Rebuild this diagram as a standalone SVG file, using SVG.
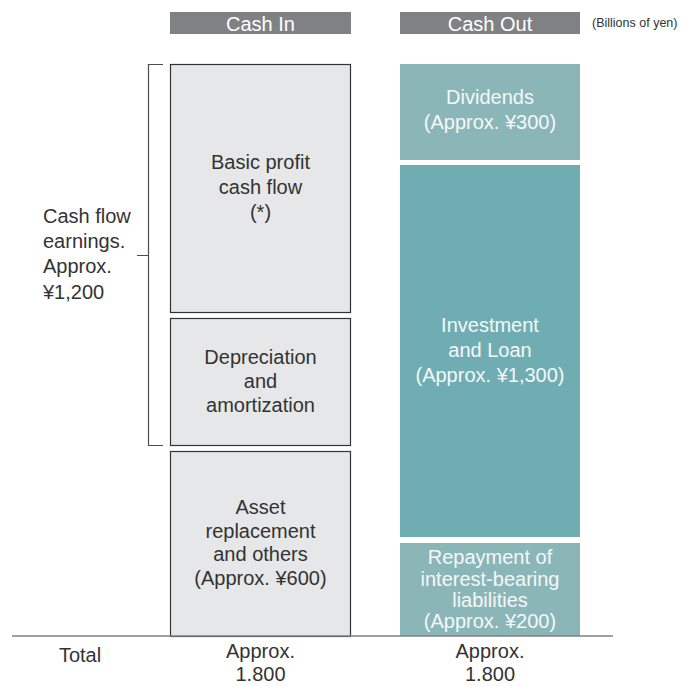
<svg xmlns="http://www.w3.org/2000/svg" width="687" height="686" viewBox="0 0 687 686">
  <style>
    text { font-family: "Liberation Sans", Arial, sans-serif; font-size: 20px; fill: #333333; text-anchor: middle; }
    .head { fill: #808184; }
    .head-t { fill: #ffffff; }
    .in { fill: #e6e7e8; stroke: #333333; stroke-width: 1.2; }
    .light { fill: #8bb6b8; }
    .dark { fill: #70adb3; }
    .out-t { fill: #f4f8f8; }
    .unit { font-size: 12.5px; text-anchor: start; }
    .bracket { fill: none; stroke: #4d4d4f; stroke-width: 1.2; }
    .axis { stroke: #808184; stroke-width: 1.5; }
  </style>

  <!-- column headers -->
  <g id="header-in">
    <rect class="head" x="170" y="12" width="181" height="22"/>
    <text class="head-t" x="260.5" y="30.5">Cash In</text>
  </g>
  <g id="header-out">
    <rect class="head" x="400" y="12" width="180" height="22"/>
    <text class="head-t" x="490" y="30.5">Cash Out</text>
  </g>
  <text class="unit" x="592" y="27">(Billions of yen)</text>

  <!-- cash in column -->
  <g id="basic-profit">
    <rect class="in" x="170.5" y="64.5" width="180" height="248"/>
    <text x="260.5" y="169">Basic profit</text>
    <text x="260.5" y="194">cash flow</text>
    <text x="260.5" y="219">(*)</text>
  </g>
  <g id="depreciation">
    <rect class="in" x="170.5" y="318.5" width="180" height="127"/>
    <text x="260.5" y="364">Depreciation</text>
    <text x="260.5" y="388">and</text>
    <text x="260.5" y="412">amortization</text>
  </g>
  <g id="asset-replacement">
    <rect class="in" x="170.5" y="451.5" width="180" height="185"/>
    <text x="260.5" y="514">Asset</text>
    <text x="260.5" y="538">replacement</text>
    <text x="260.5" y="561">and others</text>
    <text x="260.5" y="585">(Approx. ¥600)</text>
  </g>

  <!-- cash out column -->
  <g id="dividends">
    <rect class="light" x="400" y="64" width="180" height="96"/>
    <text class="out-t" x="490" y="104">Dividends</text>
    <text class="out-t" x="490" y="129">(Approx. ¥300)</text>
  </g>
  <g id="investment">
    <rect class="dark" x="400" y="165" width="180" height="372"/>
    <text class="out-t" x="490" y="332">Investment</text>
    <text class="out-t" x="490" y="357">and Loan</text>
    <text class="out-t" x="490" y="382">(Approx. ¥1,300)</text>
  </g>
  <g id="repayment">
    <rect class="light" x="400" y="543" width="180" height="93"/>
    <text class="out-t" x="490" y="564">Repayment of</text>
    <text class="out-t" x="490" y="586">interest-bearing</text>
    <text class="out-t" x="490" y="607">liabilities</text>
    <text class="out-t" x="490" y="628">(Approx. ¥200)</text>
  </g>

  <!-- bracket grouping the earnings boxes, and the totals rule -->
  <g id="connectors">
    <path class="bracket" d="M163 64.5 H148.5 V445.5 H163 M148.5 255.5 H137"/>
    <line class="axis" x1="12" y1="636" x2="613" y2="636"/>
  </g>

  <g id="earnings-label">
    <text x="43" y="223" style="text-anchor:start">Cash flow</text>
    <text x="43" y="248" style="text-anchor:start">earnings.</text>
    <text x="43" y="273" style="text-anchor:start">Approx.</text>
    <text x="43" y="299" style="text-anchor:start">¥1,200</text>
  </g>

  <!-- totals row -->
  <g id="totals">
    <text x="80" y="662">Total</text>
    <text x="260.5" y="658">Approx.</text>
    <text x="260.5" y="681">1.800</text>
    <text x="490" y="658">Approx.</text>
    <text x="490" y="681">1.800</text>
  </g>
</svg>
